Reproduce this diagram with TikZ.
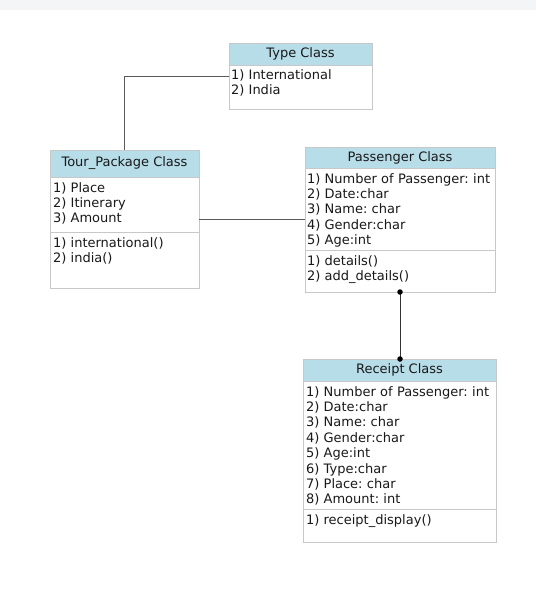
\documentclass[tikz,border=0pt]{standalone}
\usepackage{fontspec}
\setmainfont{DejaVu Sans}
\usetikzlibrary{calc}
\definecolor{hdr}{RGB}{183,221,232}
\definecolor{bord}{RGB}{200,200,200}
\definecolor{topbar}{RGB}{244,245,247}
\definecolor{conn}{RGB}{90,90,90}
\definecolor{txt}{RGB}{25,25,25}
\tikzset{
  classbox/.style={draw=bord, line width=1pt, fill=white, inner sep=0pt, outer sep=0pt, anchor=north west},
  hdrbox/.style={draw=bord, line width=1pt, fill=hdr, inner sep=0pt, outer sep=0pt, anchor=north west, text=txt, font=\fontsize{13}{15.4}\selectfont\frenchspacing},
  attr/.style={inner sep=0pt, outer sep=0pt, anchor=base west, align=left, text=txt, text width=#1, font=\fontsize{13}{15.4}\selectfont\frenchspacing},
  attr/.default=185,
  sepline/.style={draw=bord, line width=1pt},
  link/.style={draw=conn, line width=0.9pt},
  dot/.style={circle, fill=black, inner sep=0pt, minimum size=5.5pt}
}
\begin{document}
\begin{tikzpicture}[x=1pt,y=-1pt]
\useasboundingbox (0,0) rectangle (536,592);
\fill[topbar] (0,0) rectangle (536,10);

% Type Class
\node[classbox, minimum width=143, minimum height=66] (type) at (229,43) {};
\node[hdrbox, minimum width=143, minimum height=22] (typeh) at (type.north west) {Type Class};
\node[attr=138] (typea) at ($(typeh.south west)+(2,14)$) {1) International\\2) India};

% Tour_Package Class
\node[classbox, minimum width=149, minimum height=138] (tp) at (50,150) {};
\node[hdrbox, minimum width=149, minimum height=27] (tph) at (tp.north west) {Tour\_Package Class};
\node[attr=145] (tpa) at ($(tph.south west)+(3,15)$) {1) Place\\2) Itinerary\\3) Amount};
\coordinate (tpsep) at ($(tp.north west)+(0,82)$);
\draw[sepline] (tpsep) -- (tpsep -| tp.east);
\node[attr=145] (tpm) at ($(tpsep)+(3,15)$) {1) international()\\2) india()};

% Passenger Class
\node[classbox, minimum width=190, minimum height=145] (pass) at (305,147) {};
\node[hdrbox, minimum width=190, minimum height=21] (passh) at (pass.north west) {Passenger Class};
\node[attr=188] (passa) at ($(passh.south west)+(2,15)$) {1) Number of Passenger: int\\2) Date:char\\3) Name: char\\4) Gender:char\\5) Age:int};
\coordinate (passsep) at ($(pass.north west)+(0,103)$);
\draw[sepline] (passsep) -- (passsep -| pass.east);
\node[attr=188] (passm) at ($(passsep)+(2,15)$) {1) details()\\2) add\_details()};

% Receipt Class
\node[classbox, minimum width=193, minimum height=183] (rec) at (303,359) {};
\node[hdrbox, minimum width=193, minimum height=22] (rech) at (rec.north west) {Receipt Class};
\node[attr=190] (reca) at ($(rech.south west)+(3,15)$) {1) Number of Passenger: int\\2) Date:char\\3) Name: char\\4) Gender:char\\5) Age:int\\6) Type:char\\7) Place: char\\8) Amount: int};
\coordinate (recsep) at ($(rec.north west)+(0,150)$);
\draw[sepline] (recsep) -- (recsep -| rec.east);
\node[attr=190] (recm) at ($(recsep)+(3,15)$) {1) receipt\_display()};

% connectors
\draw[link] (type.west) -| (tp.north);
\draw[link] (tp.east) -- (tp.east -| pass.west);
\coordinate (recin) at (pass.south |- rec.north);
\draw[link, draw=black!80] (pass.south) -- (recin);
\node[dot] (d1) at (pass.south) {};
\node[dot] (d2) at (recin) {};
\end{tikzpicture}
\end{document}
